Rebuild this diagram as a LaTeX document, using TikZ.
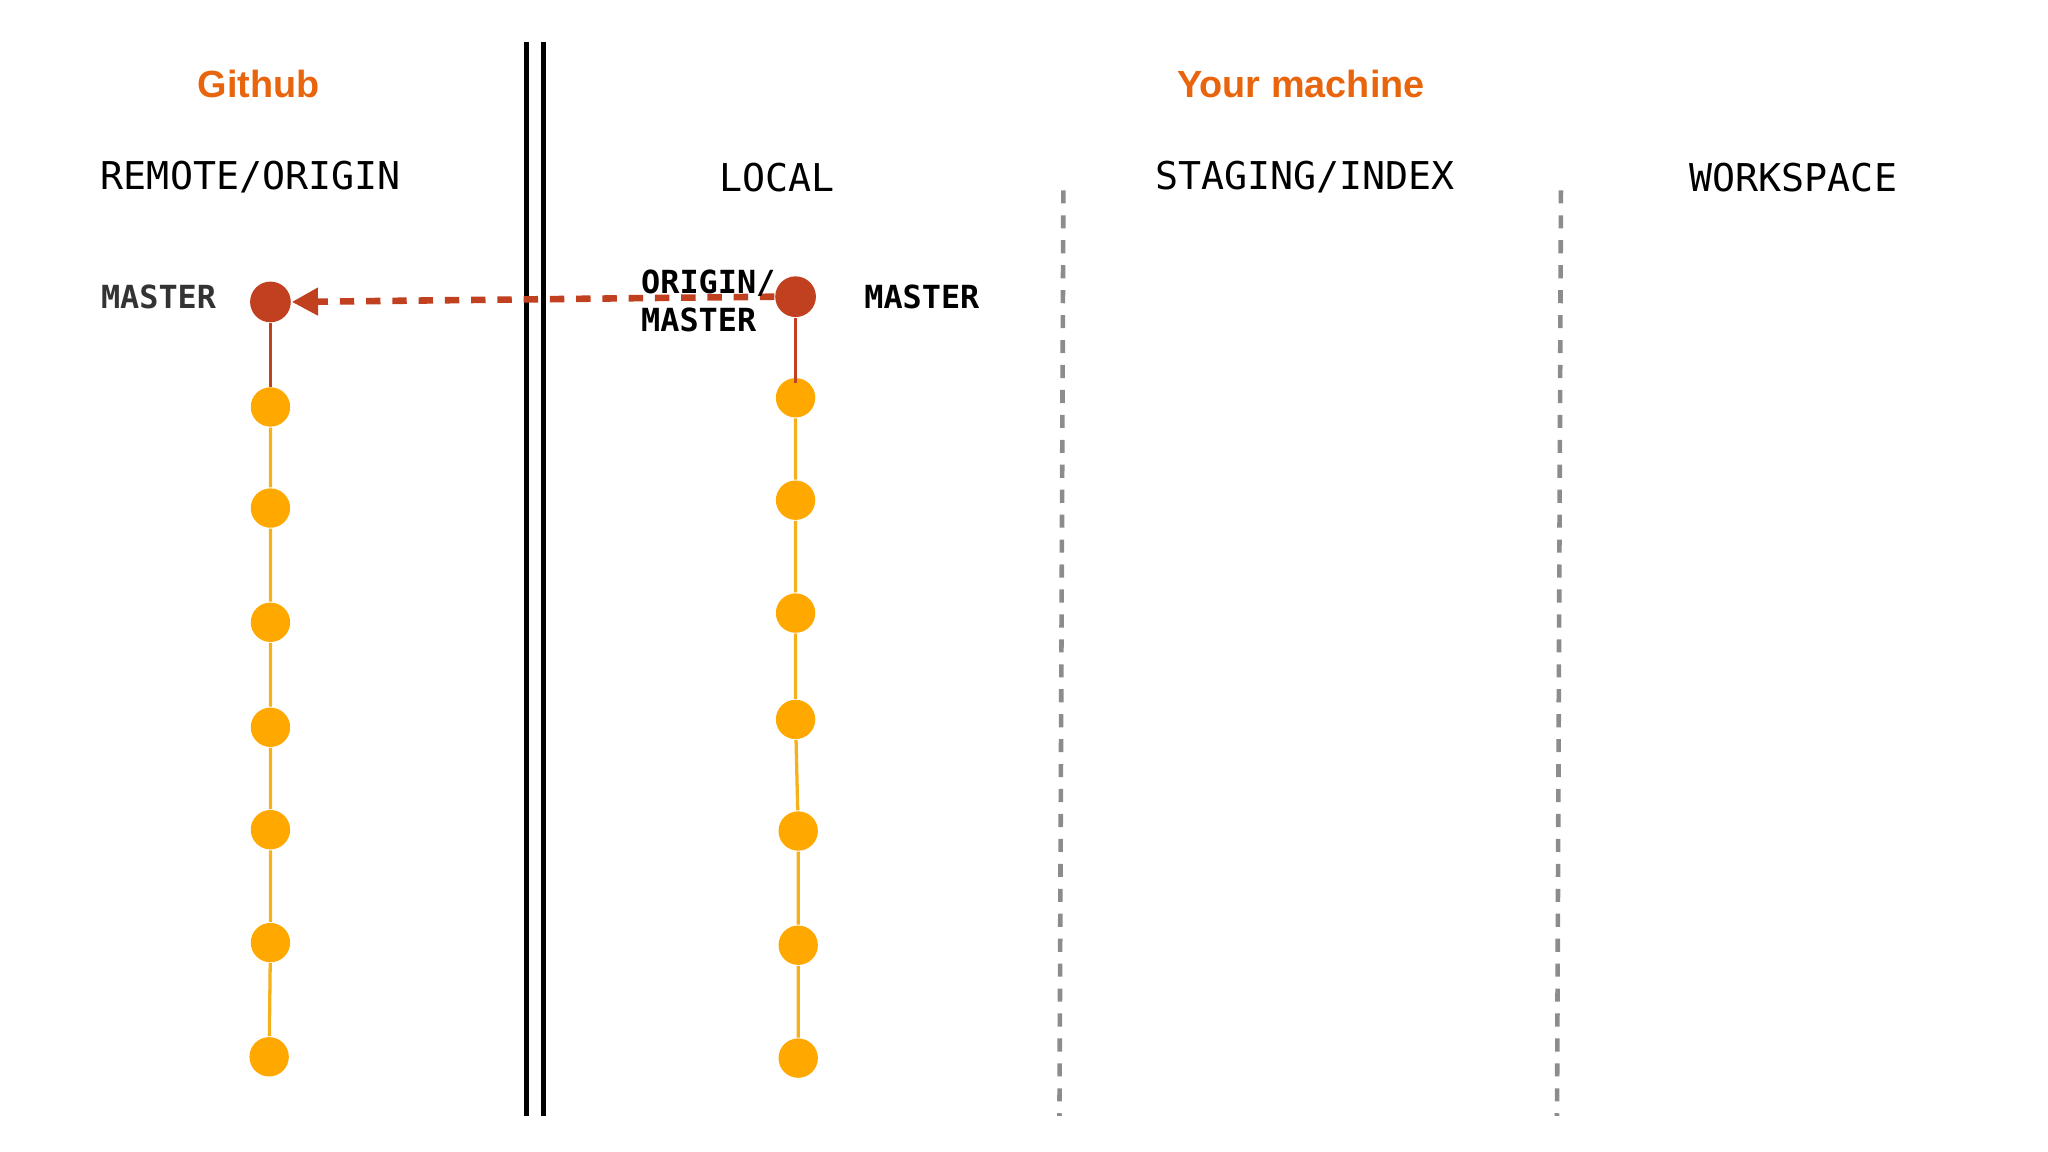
\documentclass[tikz,border=0pt]{standalone}
\usepackage{fontspec}
\setmainfont{Liberation Sans}
\newfontfamily\monof{DejaVu Sans Mono}
\usetikzlibrary{arrows.meta}
\definecolor{orng}{HTML}{E8650E}
\definecolor{redc}{HTML}{C0401F}
\definecolor{yel}{HTML}{FFA800}
\definecolor{yline}{HTML}{F5B01A}
\begin{document}
\begin{tikzpicture}[x=0.1mm,y=-0.1mm,
  yd/.style={circle,fill=yel,minimum size=3mm,inner sep=0pt},
  rd/.style={circle,fill=redc,minimum size=3.1mm,inner sep=0pt},
  head/.style={font=\monof\fontsize{8.3pt}{10pt}\selectfont},
  tag/.style={font=\monof\bfseries\fontsize{6.9pt}{8.2pt}\selectfont},
  ttl/.style={font=\bfseries\fontsize{8.2pt}{10pt}\selectfont,text=orng},
  gdash/.style={gray!90,line width=0.35mm,dash pattern=on 1mm off 0.9mm}]
\useasboundingbox (0,0) rectangle (1560,877.5);
\node[ttl] (gh) at (197,64) {Github};
\node[ttl] (ym) at (991,64) {Your machine};
\node[head] (h1) at (191,135) {REMOTE/ORIGIN};
\node[head] (h2) at (592,135) {LOCAL};
\node[head] (h3) at (994,135) {STAGING/INDEX};
\node[head] (h4) at (1366,135) {WORKSPACE};
% separators
\coordinate (d1a) at (401,32); \coordinate (d1b) at (401,850);
\coordinate (d2a) at (414,32); \coordinate (d2b) at (414,850);
\draw[line width=0.35mm] (d1a)--(d1b);
\draw[line width=0.35mm] (d2a)--(d2b);
\coordinate (g1a) at (810,145); \coordinate (g1b) at (807,850);
\coordinate (g2a) at (1189,145); \coordinate (g2b) at (1186,850);
\draw[gdash] (g1a)--(g1b);
\draw[gdash] (g2a)--(g2b);
% left column
\coordinate (lt) at (206,295);
\node[rd] (lr) at (206,230) {};
\foreach \i/\x/\y in {1/206/310,2/206/387,3/206/474,4/206/554,5/206/632,6/206/718,7/205/805}
  \node[yd] (l\i) at (\x,\y) {};
\draw[yline,line width=0.25mm] (l1)--(l2)--(l3)--(l4)--(l5)--(l6)--(l7);
\draw[redc,line width=0.25mm] (lr)--(lt);
% right column
\coordinate (rt) at (606,292);
\node[rd] (rr) at (606,226) {};
\foreach \i/\x/\y in {1/606/303,2/606/381,3/606/467,4/606/548,5/608/633,6/608/720,7/608/806}
  \node[yd] (r\i) at (\x,\y) {};
\draw[yline,line width=0.25mm] (r1)--(r2)--(r3)--(r4)--(r5)--(r6)--(r7);
\draw[redc,line width=0.25mm] (rr)--(rt);
% arrow
\draw[redc,line width=0.5mm,dash pattern=on 1.1mm off 0.9mm,-{Triangle[length=2mm,width=2mm]}] (rr.west) -- (lr.east);
% labels
\node[tag,text=black!80,anchor=east] (lm) at (177,226) {MASTER};
\node[tag,anchor=west,align=left] (om) at (476,229) {ORIGIN/\\MASTER};
\node[tag,anchor=west] (rm) at (646,226) {MASTER};
\end{tikzpicture}
\end{document}
